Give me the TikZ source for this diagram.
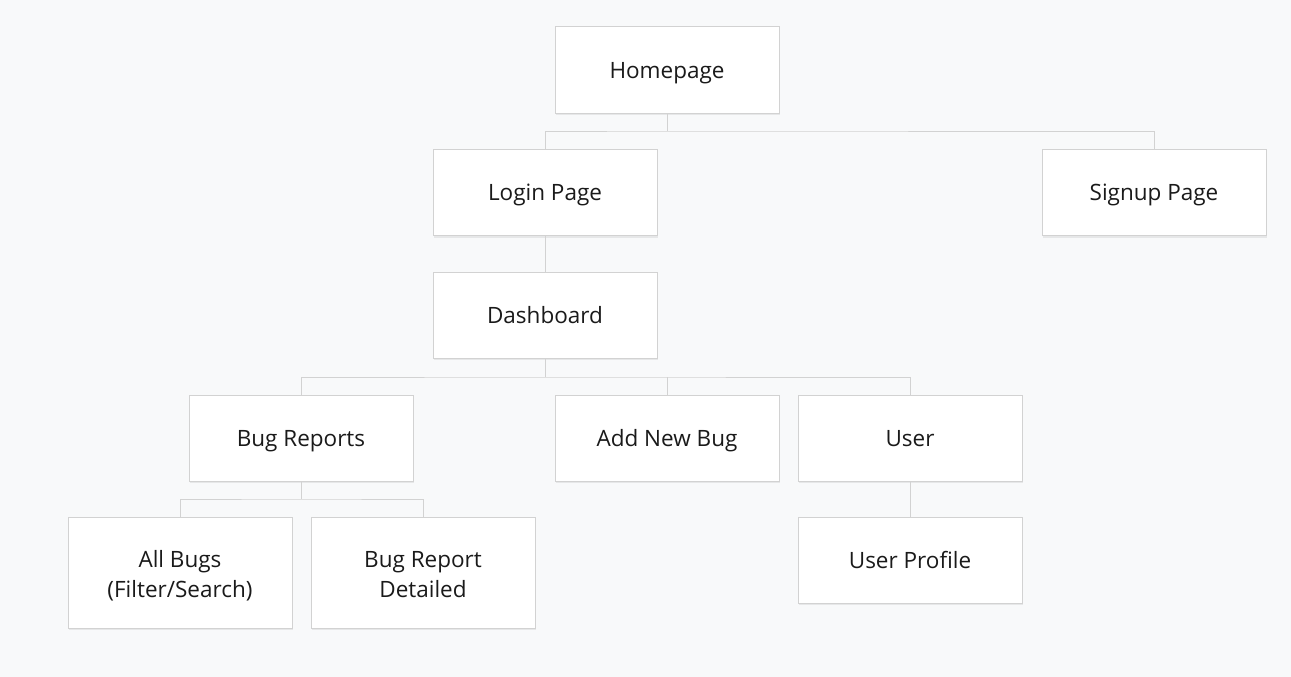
\documentclass[tikz,border=0pt]{standalone}
\usepackage{fontspec}
\setmainfont{Open Sans}
\usetikzlibrary{shadows}
\definecolor{bg}{HTML}{F8F9FA}
\definecolor{edge}{HTML}{D2D2D2}
\definecolor{txt}{HTML}{1A1A1A}
\tikzset{
  pagebox/.style={draw=edge, line width=1pt, fill=white, minimum width=224pt, minimum height=86pt,
    inner sep=0pt, align=center, text=txt, font=\fontsize{22.5}{30}\selectfont,
    text height=21pt, text depth=5pt,
    drop shadow={shadow xshift=1pt, shadow yshift=-2pt, opacity=0.07, fill=black}},
  tallbox/.style={pagebox, minimum height=111pt, text height=54pt, text depth=5pt},
  conn/.style={draw=edge, line width=1pt}
}
\begin{document}
\begin{tikzpicture}[x=1pt,y=-1pt]
\fill[bg] (0,0) rectangle (1291,677);
\useasboundingbox (0,0) rectangle (1291,677);
\node[pagebox] (home) at (667,70) {Homepage};
\node[pagebox] (login) at (545,192.5) {Login Page};
\node[pagebox] (signup) at (1154,192.5) {Signup Page};
\node[pagebox] (dash) at (545,315) {Dashboard};
\node[pagebox] (reports) at (301,438) {Bug Reports};
\node[pagebox] (addbug) at (667,438) {Add New Bug};
\node[pagebox] (user) at (910,438) {User};
\node[tallbox] (allbugs) at (180,572.5) {All Bugs\\(Filter/Search)};
\node[tallbox] (detail) at (423,572.5) {Bug Report\\Detailed};
\node[pagebox] (profile) at (910,560) {User Profile};
% connectors
\coordinate (j1) at (667,131);
\draw[conn] (home.south) -- (j1);
\draw[conn] (login.north) |- (j1) -| (signup.north);
\draw[conn] (login.south) -- (dash.north);
\coordinate (j2) at (545,377);
\draw[conn] (dash.south) -- (j2);
\draw[conn] (reports.north) |- (j2) -| (user.north);
\draw[conn] (addbug.north) -- (addbug.north |- j2);
\coordinate (j3) at (301,499);
\draw[conn] (reports.south) -- (j3);
\draw[conn] (allbugs.north) |- (j3) -| (detail.north);
\draw[conn] (user.south) -- (profile.north);
\end{tikzpicture}
\end{document}
